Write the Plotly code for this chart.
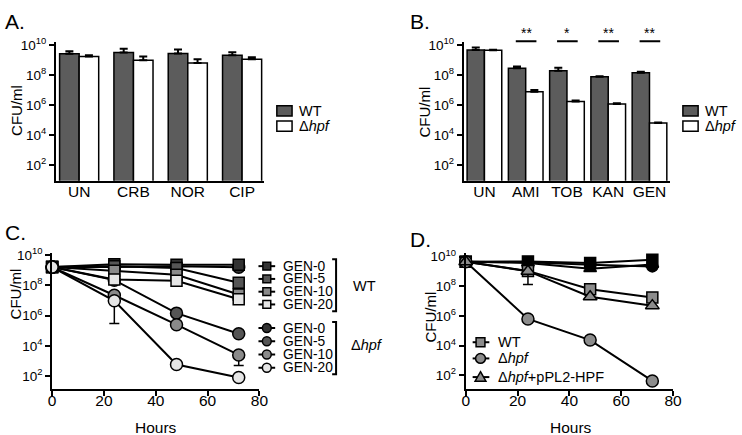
import plotly.graph_objects as go

W, H = 742, 435
FONT = "Arial, Liberation Sans, Helvetica, sans-serif"

# ---------------- data ----------------
A_cats = ["UN", "CRB", "NOR", "CIP"]
A_wt = [2.7e9, 3.3e9, 2.9e9, 2.2e9]
A_wt_err = [1.3e9, 2.6e9, 2.3e9, 1.3e9]
A_hpf = [1.8e9, 1.0e9, 6.6e8, 1.2e9]
A_hpf_err = [0.35e9, 0.8e9, 0.5e9, 0.4e9]

B_cats = ["UN", "AMI", "TOB", "KAN", "GEN"]
B_wt = [4.8e9, 3.0e8, 2.0e8, 8.0e7, 1.5e8]
B_wt_err = [2.3e9, 0.8e8, 1.2e8, 0.5e7, 0.2e8]
B_hpf = [4.7e9, 8.0e6, 1.8e6, 1.2e6, 6.5e4]
B_hpf_err = [0.3e9, 2.5e6, 0.3e6, 0.15e6, 0.5e4]
B_sig = ["", "**", "*", "**", "**"]

hours = [0, 24, 48, 72]
C_labels = ["GEN-0", "GEN-5", "GEN-10", "GEN-20"]
C_wt = [
    [1.6e9, 2.5e9, 2.3e9, 2.3e9],
    [1.6e9, 1.8e9, 1.4e9, 1.5e8],
    [1.6e9, 9.3e8, 5.0e8, 2.5e7],
    [1.6e9, 2.4e8, 2.0e8, 1.2e7],
]
C_hpf = [
    [1.6e9, 1.6e9, 1.8e9, 1.55e9],
    [1.6e9, 2.2e8, 1.45e6, 6.3e4],
    [1.6e9, 2.2e7, 2.5e5, 2.5e3],
    [1.6e9, 9.5e6, 5.8e2, 80],
]
C_hpf_errminus = [
    [None, None, None, None],
    [None, None, None, None],
    [None, None, None, 2.0e3],
    [None, 9.2e6, None, None],
]
C_colors = ["#333333", "#555555", "#8a8a8a", "#e6e6e6"]

D_labels = ["WT", "Δ<i>hpf</i>", "Δ<i>hpf</i>+pPL2-HPF"]
D_symbols = ["square", "circle", "triangle-up"]
D_untreated = [
    [4.5e9, 4.8e9, 3.7e9, 6.2e9],
    [4.5e9, 4.2e9, 2.8e9, 2.2e9],
    [4.5e9, 3.8e9, 1.55e9, 3.0e9],
]
D_gen = [
    [4.5e9, 1.1e9, 6.3e7, 1.8e7],
    [4.5e9, 6.3e5, 2.4e4, 42],
    [4.5e9, 1.05e9, 2.0e7, 5.0e6],
]
D_gen_errminus = [
    [None, None, None, None],
    [None, None, None, None],
    [None, 9.15e8, None, None],
]

ytickvals = [1e2, 1e4, 1e6, 1e8, 1e10]
yticktext = ["10<sup>2</sup>", "10<sup>4</sup>", "10<sup>6</sup>", "10<sup>8</sup>", "10<sup>10</sup>"]
xtickvals = [0, 20, 40, 60, 80]

WT_BAR = "#5c5c5c"
D_GRAY = "#8c8c8c"


def fx(x):
    return x / W


def fy(y):
    return 1 - y / H


fig = go.Figure()

# ---------- Panel A ----------
fig.add_trace(go.Bar(x=A_cats, y=A_wt, width=0.36, offset=-0.36, marker=dict(color=WT_BAR, line=dict(color="black", width=1.5)),
                     error_y=dict(type="data", array=A_wt_err, arrayminus=[0] * 4, symmetric=False, color="black", thickness=2, width=4),
                     xaxis="x", yaxis="y", showlegend=False))
fig.add_trace(go.Bar(x=A_cats, y=A_hpf, width=0.36, offset=0.0, marker=dict(color="white", line=dict(color="black", width=1.5)),
                     error_y=dict(type="data", array=A_hpf_err, arrayminus=[0] * 4, symmetric=False, color="black", thickness=2, width=4),
                     xaxis="x", yaxis="y", showlegend=False))

# ---------- Panel B ----------
fig.add_trace(go.Bar(x=B_cats, y=B_wt, width=0.42, offset=-0.42, marker=dict(color=WT_BAR, line=dict(color="black", width=1.5)),
                     error_y=dict(type="data", array=B_wt_err, arrayminus=[0] * 5, symmetric=False, color="black", thickness=2, width=4),
                     xaxis="x2", yaxis="y2", showlegend=False))
fig.add_trace(go.Bar(x=B_cats, y=B_hpf, width=0.42, offset=0.0, marker=dict(color="white", line=dict(color="black", width=1.5)),
                     error_y=dict(type="data", array=B_hpf_err, arrayminus=[0] * 5, symmetric=False, color="black", thickness=2, width=4),
                     xaxis="x2", yaxis="y2", showlegend=False))


# ---------- Panel C ----------
def c_hpf(i):
    fig.add_trace(go.Scatter(x=hours, y=C_hpf[i], mode="lines+markers", cliponaxis=False,
                             line=dict(color="black", width=2),
                             marker=dict(symbol="circle", size=12, color=C_colors[i], line=dict(color="black", width=1.5)),
                             error_y=dict(type="data", array=[0] * 4, arrayminus=C_hpf_errminus[i], symmetric=False,
                                          color="black", thickness=1.5, width=5),
                             xaxis="x3", yaxis="y3", showlegend=False))


def c_wt(i):
    fig.add_trace(go.Scatter(x=hours, y=C_wt[i], mode="lines+markers", cliponaxis=False,
                             line=dict(color="black", width=2),
                             marker=dict(symbol="square", size=11, color=C_colors[i], line=dict(color="black", width=1.5)),
                             xaxis="x3", yaxis="y3", showlegend=False))


c_hpf(0)
c_hpf(1)
for i in range(4):
    c_wt(i)
c_hpf(2)
c_hpf(3)

# ---------- Panel D ----------
for i in range(3):
    fig.add_trace(go.Scatter(x=hours, y=D_untreated[i], mode="lines+markers", cliponaxis=False,
                             line=dict(color="black", width=2),
                             marker=dict(symbol=D_symbols[i], size=11, color="black", line=dict(color="black", width=1.5)),
                             xaxis="x4", yaxis="y4", showlegend=False))
for i in range(3):
    fig.add_trace(go.Scatter(x=hours, y=D_gen[i], mode="lines+markers", cliponaxis=False,
                             line=dict(color="black", width=2),
                             marker=dict(symbol=D_symbols[i], size=12 if i else 11, color=D_GRAY, line=dict(color="black", width=1.5)),
                             error_y=dict(type="data", array=[0] * 4, arrayminus=D_gen_errminus[i], symmetric=False,
                                          color="black", thickness=1.5, width=5),
                             xaxis="x4", yaxis="y4", showlegend=False))


# ---------- axes ----------
def yax(domain, rng, anchor):
    return dict(type="log", domain=domain, range=rng, anchor=anchor, showgrid=False, zeroline=False,
                showline=True, linecolor="black", linewidth=2, ticks="outside", ticklen=5, tickwidth=2,
                tickcolor="black", tickvals=ytickvals, ticktext=yticktext,
                tickfont=dict(family=FONT, size=13.5, color="black"))


def xcat(domain, rng, anchor):
    return dict(type="category", domain=domain, range=rng, anchor=anchor, showgrid=False, zeroline=False,
                showline=True, linecolor="black", linewidth=2, ticks="", ticklabelstandoff=-4,
                tickfont=dict(family=FONT, size=15.5, color="black"))


def xnum(domain, anchor):
    return dict(domain=domain, range=[0, 80], anchor=anchor, showgrid=False, zeroline=False,
                showline=True, linecolor="black", linewidth=2, ticks="outside", ticklen=5, tickwidth=2,
                tickcolor="black", tickvals=xtickvals, ticklabelstandoff=-9,
                tickfont=dict(family=FONT, size=15.5, color="black"))


shapes = []
annotations = []


def txt(x, y, s, size=14, xanchor="center", angle=0):
    annotations.append(dict(x=fx(x), y=fy(y), xref="paper", yref="paper", text=s, showarrow=False,
                            xanchor=xanchor, yanchor="middle", textangle=angle, borderpad=0,
                            font=dict(family=FONT, size=size, color="black")))


def rect(x0, y0, x1, y1, color):
    shapes.append(dict(type="rect", xref="paper", yref="paper", x0=fx(x0), x1=fx(x1), y0=fy(y1), y1=fy(y0),
                       fillcolor=color, line=dict(color="black", width=1.5)))


def circ(cx, cy, r, color):
    shapes.append(dict(type="circle", xref="paper", yref="paper", x0=fx(cx - r), x1=fx(cx + r), y0=fy(cy + r), y1=fy(cy - r),
                       fillcolor=color, line=dict(color="black", width=1.5)))


def tri(cx, cy, r, color):
    p = "M {},{} L {},{} L {},{} Z".format(fx(cx), fy(cy - r), fx(cx + r), fy(cy + r * 0.75), fx(cx - r), fy(cy + r * 0.75))
    shapes.append(dict(type="path", xref="paper", yref="paper", path=p, fillcolor=color, line=dict(color="black", width=1.5)))


def hline(x0, x1, y, width=2):
    shapes.append(dict(type="line", xref="paper", yref="paper", x0=fx(x0), x1=fx(x1), y0=fy(y), y1=fy(y),
                       line=dict(color="black", width=width)))


def bracket(x, y0, y1):
    p = "M {},{} L {},{} L {},{} L {},{}".format(fx(x - 4), fy(y0), fx(x), fy(y0), fx(x), fy(y1), fx(x - 4), fy(y1))
    shapes.append(dict(type="path", xref="paper", yref="paper", path=p, line=dict(color="black", width=2)))


# Panel letters
txt(0, 14, "A.", 21, "left")
txt(412, 14, "B.", 21, "left")
txt(0, 229, "C.", 21, "left")
txt(412, 236, "D.", 21, "left")

# axis titles
txt(12, 104, "CFU/ml", 15, angle=-90)
txt(428, 106, "CFU/ml", 15, angle=-90)
txt(12, 291, "CFU/ml", 15, angle=-90)
txt(434, 315, "CFU/ml", 15, angle=-90)
txt(155, 427, "Hours", 15.5)
txt(577, 427, "Hours", 15.5)

# legends A and B
for lx, tx in [(277.7, 299), (691, 712)]:
    rect(lx, 99.5, lx + 15.5, 110, WT_BAR)
    rect(lx, 115, lx + 15.5, 125.5, "white")
    txt(tx, 105, "WT", 14.5, "left")
    txt(tx, 120.5, "Δ<i>hpf</i>", 14.5, "left")

# significance markers panel B
for i, s in enumerate(B_sig):
    if s:
        shapes.append(dict(type="line", xref="x2", yref="paper", x0=i - 0.24, x1=i + 0.26, y0=fy(34), y1=fy(34),
                           line=dict(color="black", width=2)))
        annotations.append(dict(x=i + 0.01, y=fy(25), xref="x2", yref="paper", text=s, showarrow=False,
                                xanchor="center", yanchor="middle", font=dict(family=FONT, size=14, color="black")))

# legend C
wt_rows = [263, 276, 289, 302]
hpf_rows = [326, 339.5, 353, 366.5]
for i in range(4):
    hline(259, 276, wt_rows[i])
    rect(263.5, wt_rows[i] - 4, 271.5, wt_rows[i] + 4, C_colors[i])
    txt(283, wt_rows[i], C_labels[i], 13.8, "left")
    hline(259, 276, hpf_rows[i])
    circ(267.5, hpf_rows[i], 4.5, C_colors[i])
    txt(283, hpf_rows[i], C_labels[i], 13.8, "left")
bracket(338, 256, 309)
bracket(338, 320, 373)
txt(366.5, 283.5, "WT", 14.5)
txt(369, 343.5, "Δ<i>hpf</i>", 14.5)

# legend D
d_rows = [340.5, 357, 376]
for i in range(3):
    hline(477, 494, d_rows[i])
    if i == 0:
        rect(480.5, d_rows[i] - 4.5, 489.5, d_rows[i] + 4.5, D_GRAY)
    elif i == 1:
        circ(485, d_rows[i], 5, D_GRAY)
    else:
        tri(485, d_rows[i], 5.5, D_GRAY)
    txt(501.5, d_rows[i], D_labels[i], 14.5, "left")

fig.update_layout(
    width=W, height=H, margin=dict(l=0, r=0, t=0, b=0, pad=0),
    paper_bgcolor="white", plot_bgcolor="white", barmode="group", showlegend=False,
    xaxis=xcat([fx(53), fx(265)], [-0.425, 3.41], "y"),
    yaxis=yax([fy(176), fy(35)], [0.95, 10.2], "x"),
    xaxis2=xcat([fx(468), fx(678)], [-0.5, 4.5], "y2"),
    yaxis2=yax([fy(176), fy(35)], [0.95, 10.2], "x2"),
    xaxis3=xnum([fx(49), fx(260)], "y3"),
    yaxis3=yax([fy(388.3), fy(250)], [1.136, 10.11], "x3"),
    xaxis4=xnum([fx(470), fx(681)], "y4"),
    yaxis4=yax([fy(388.3), fy(250)], [1.07, 10.22], "x4"),
    shapes=shapes, annotations=annotations,
)

fig.write_html("out.html", config={"displayModeBar": False},
               post_script="document.body.style.margin='0';document.body.style.padding='0';")
